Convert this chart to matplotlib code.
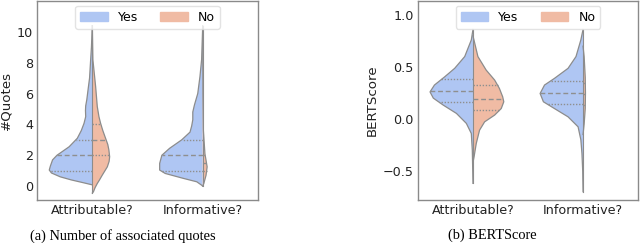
import matplotlib
matplotlib.use("Agg")
import matplotlib.pyplot as plt
from matplotlib.patches import Patch
import numpy as np

# categories / labels
categories = ["Attributable?", "Informative?"]
hue_labels = ["Yes", "No"]
captions = ["(a) Number of associated quotes", "(b) BERTScore"]
ylabels = ["#Quotes", "BERTScore"]

# half-violin outlines: (value, half width)
# --- number of quotes
q_att_yes_y = [10.4, 9.0, 8.2, 7.0, 6.45, 5.6, 5.2, 4.9, 4.5, 4.07, 3.6, 3.1, 2.55, 2.2, 2.0, 1.7, 1.3, 1.04, 0.85, 0.6, 0.4, 0.2, 0.08]
q_att_yes_w = [0.0, 0.008, 0.015, 0.025, 0.035, 0.05, 0.06, 0.062, 0.06, 0.075, 0.1, 0.136, 0.21, 0.28, 0.32, 0.36, 0.38, 0.39, 0.37, 0.29, 0.19, 0.07, 0.0]
q_att_no_y = [10.4, 8.2, 7.5, 6.45, 5.15, 4.5, 4.07, 3.6, 3.1, 2.7, 2.34, 1.9, 1.6, 1.25, 0.71, 0.4, 0.17, -0.1, -0.37, -0.45]
q_att_no_w = [0.0, 0.005, 0.015, 0.03, 0.045, 0.06, 0.075, 0.095, 0.12, 0.14, 0.15, 0.157, 0.152, 0.136, 0.09, 0.065, 0.045, 0.025, 0.01, 0.0]
q_inf_yes_y = [10.4, 8.2, 7.1, 6.0, 5.26, 4.8, 4.3, 3.9, 3.5, 3.0, 2.45, 2.0, 1.47, 1.04, 0.82, 0.5, 0.28, 0.06, 0.0]
q_inf_yes_w = [0.0, 0.01, 0.025, 0.045, 0.075, 0.09, 0.09, 0.1, 0.115, 0.19, 0.3, 0.37, 0.39, 0.39, 0.34, 0.175, 0.054, 0.01, 0.0]
q_inf_no_y = [10.3, 6.0, 3.6, 2.1, 1.25, 0.7, 0.17, 0.0]
q_inf_no_w = [0.0, 0.002, 0.006, 0.02, 0.04, 0.03, 0.01, 0.0]
q_quart = {"att_yes": [1, 2, 3], "att_no": [2, 3, 4], "inf_yes": [1, 2, 3], "inf_no": [1, 1.5, 2]}

# --- BERTScore
b_att_yes_y = [0.86, 0.76, 0.6, 0.487, 0.405, 0.326, 0.26, 0.2, 0.133, 0.053, -0.043, -0.14, -0.3, -0.5, -0.62]
b_att_yes_w = [0.0, 0.015, 0.075, 0.166, 0.257, 0.35, 0.39, 0.36, 0.27, 0.15, 0.06, 0.015, 0.006, 0.002, 0.0]
b_att_no_y = [0.8, 0.6, 0.47, 0.374, 0.294, 0.213, 0.165, 0.1, 0.037, -0.028, -0.108, -0.236, -0.365, -0.42]
b_att_no_w = [0.0, 0.045, 0.12, 0.197, 0.24, 0.27, 0.28, 0.257, 0.197, 0.106, 0.06, 0.03, 0.01, 0.0]
b_inf_yes_y = [0.86, 0.76, 0.6, 0.487, 0.39, 0.326, 0.245, 0.165, 0.1, 0.02, -0.076, -0.2, -0.33, -0.5, -0.7]
b_inf_yes_w = [0.0, 0.02, 0.064, 0.136, 0.26, 0.35, 0.39, 0.36, 0.26, 0.136, 0.045, 0.02, 0.01, 0.003, 0.0]
b_inf_no_y = [0.7, 0.6, 0.4, 0.25, 0.1, -0.05, -0.15]
b_inf_no_w = [0.0, 0.01, 0.02, 0.022, 0.02, 0.01, 0.0]
b_quart = {"att_yes": [0.165, 0.265, 0.38], "att_no": [0.085, 0.19, 0.325],
           "inf_yes": [0.143, 0.252, 0.365], "inf_no": [0.13, 0.24, 0.35]}

colors = ["#afc6f3", "#f0bba4"]
edge = "#8c8c8c"

panels = [
    {"yes": [(q_att_yes_y, q_att_yes_w), (q_inf_yes_y, q_inf_yes_w)],
     "no": [(q_att_no_y, q_att_no_w), (q_inf_no_y, q_inf_no_w)],
     "quart": q_quart, "ylim": (-0.9, 12.0), "yticks": [0, 2, 4, 6, 8, 10],
     "yfmt": "{:g}"},
    {"yes": [(b_att_yes_y, b_att_yes_w), (b_inf_yes_y, b_inf_yes_w)],
     "no": [(b_att_no_y, b_att_no_w), (b_inf_no_y, b_inf_no_w)],
     "quart": b_quart, "ylim": (-0.78, 1.135), "yticks": [-0.5, 0.0, 0.5, 1.0],
     "yfmt": "{:.1f}"},
]

fig = plt.figure(figsize=(6.4, 2.43), dpi=100)
axes = [fig.add_axes([0.058, 0.177, 0.345, 0.819]),
        fig.add_axes([0.653, 0.177, 0.344, 0.819])]

for k, (ax, p) in enumerate(zip(axes, panels)):
    keys = ["att", "inf"]
    for i in range(2):
        # left half = Yes, right half = No
        for side, hue in [(-1, "yes"), (1, "no")]:
            y = np.array(p[hue][i][0])
            w = np.array(p[hue][i][1])
            col = colors[0] if hue == "yes" else colors[1]
            ax.fill_betweenx(y, i, i + side * w, facecolor=col, edgecolor="none", zorder=2)
            ax.plot(i + side * w, y, color=edge, lw=0.9, zorder=3)
            # quartile lines
            order = np.argsort(y)
            for j, qv in enumerate(p["quart"][keys[i] + "_" + hue]):
                qw = np.interp(qv, y[order], w[order])
                ls = (0, (3.5, 2)) if j == 1 else (0, (1, 1.2))
                ax.plot([i, i + side * qw], [qv, qv], color="#8f8f8f", lw=1.0, ls=ls, zorder=4)
        ax.plot([i, i], [min(min(p["yes"][i][0]), min(p["no"][i][0])),
                         max(max(p["yes"][i][0]), max(p["no"][i][0]))],
                color=edge, lw=0.8, zorder=3)

    ax.set_xlim(-0.5, 1.5)
    ax.set_ylim(*p["ylim"])
    ax.set_xticks([0, 1])
    ax.set_xticklabels(categories, fontsize=9.2, color="#222222")
    ax.set_yticks(p["yticks"])
    ax.set_yticklabels([p["yfmt"].format(v).replace("-", "\u2212") for v in p["yticks"]],
                       fontsize=9.2, color="#222222")
    ax.tick_params(length=0, pad=3)
    ax.set_ylabel(ylabels[k], fontsize=9.6, color="#222222", labelpad=3)
    for s in ax.spines.values():
        s.set_color("#8a8a8a")
        s.set_linewidth(1.0)
    handles = [Patch(facecolor=colors[0], edgecolor=colors[0]),
               Patch(facecolor=colors[1], edgecolor=colors[1])]
    ax.legend(handles, hue_labels, loc="upper center", ncol=2, fontsize=9,
              handlelength=2.2, columnspacing=1.8, borderaxespad=0.4,
              frameon=True, framealpha=0.8, edgecolor="#dddddd")

fig.text(123 / 640, 0.03, captions[0], ha="center", va="center",
         fontsize=10.4, family="Liberation Serif")
fig.text(492 / 640, 0.03, captions[1], ha="center", va="center",
         fontsize=10.4, family="Liberation Serif")

fig.savefig("out.png", dpi=100)
